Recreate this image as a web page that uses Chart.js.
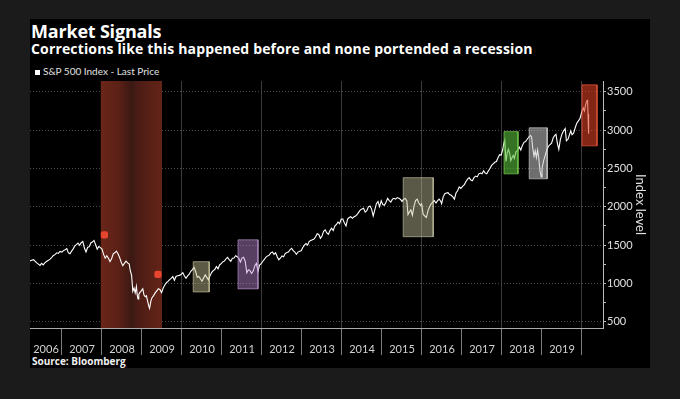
<!DOCTYPE html>
<html>
<head>
<meta charset="utf-8">
<script src="https://cdn.jsdelivr.net/npm/chart.js@4.4.1/dist/chart.umd.min.js"></script>
<style>
  body { margin: 0; background: #1b1b1b; }
  #wrap { position: relative; width: 680px; height: 399px; overflow: hidden; }
  #panel { position: absolute; left: 30px; top: 19px; width: 620px; height: 349px; background: #000; }
  .txt { position: absolute; color: #fff; font-family: Lato, sans-serif; white-space: nowrap; }
  #title { left: 31px; top: 22px; font-size: 18px; line-height: 18px; font-weight: bold; font-family: "Open Sans", sans-serif; letter-spacing: -0.2px; }
  #sub { left: 31px; top: 42px; font-size: 14px; line-height: 14px; font-weight: bold; font-family: "Open Sans", sans-serif; letter-spacing: 0.15px; }
  #legend { left: 35px; top: 66px; font-size: 10px; line-height: 10px; color: #e0e0e0; }
  #legend span { display: inline-block; width: 5px; height: 5px; background: #fff; margin-right: 3px; }
  #source { left: 32px; top: 356px; font-size: 10px; line-height: 11px; font-weight: bold; color: #f0f0f0; font-family: "Open Sans", sans-serif; }
  canvas { position: absolute; left: 0; top: 0; }
</style>
</head>
<body>
<div id="wrap">
  <div id="panel"></div>
  <div id="title" class="txt">Market Signals</div>
  <div id="sub" class="txt">Corrections like this happened before and none portended a recession</div>
  <div id="legend" class="txt"><span></span>S&amp;P 500 Index - Last Price</div>
  <div id="source" class="txt">Source: Bloomberg</div>
  <canvas id="chart" width="680" height="399"></canvas>
</div>
<script>
// S&P 500 (decimal years)
const dates = [
  2006.20,2006.24,2006.29,2006.33,2006.37,2006.41,2006.45,2006.49,2006.53,2006.57,2006.62,2006.66,2006.70,2006.74,2006.78,2006.83,2006.87,2006.91,2006.95,
  2007.00,2007.04,2007.08,2007.12,2007.16,2007.20,2007.24,2007.28,2007.32,2007.36,2007.40,2007.44,2007.48,2007.52,2007.56,2007.60,2007.64,2007.68,2007.72,2007.76,2007.80,2007.84,2007.88,2007.92,2007.96,
  2008.00,2008.04,2008.08,2008.12,2008.16,2008.20,2008.24,2008.28,2008.32,2008.36,2008.40,2008.44,2008.48,2008.52,2008.56,2008.60,2008.64,2008.68,2008.71,2008.74,2008.77,2008.80,2008.83,2008.86,2008.88,2008.90,2008.92,2008.95,2008.98,
  2009.02,2009.05,2009.08,2009.11,2009.14,2009.17,2009.19,2009.22,2009.25,2009.29,2009.33,2009.37,2009.41,2009.45,2009.49,2009.53,2009.57,2009.61,2009.65,2009.69,2009.73,2009.77,2009.81,2009.85,2009.89,2009.93,2009.97,
  2010.02,2010.06,2010.10,2010.14,2010.18,2010.22,2010.26,2010.30,2010.34,2010.38,2010.42,2010.46,2010.50,2010.54,2010.58,2010.62,2010.66,2010.70,2010.74,2010.78,2010.82,2010.86,2010.90,2010.94,2010.98,
  2011.02,2011.06,2011.10,2011.14,2011.18,2011.22,2011.26,2011.30,2011.34,2011.38,2011.42,2011.46,2011.50,2011.54,2011.58,2011.62,2011.66,2011.70,2011.74,2011.78,2011.82,2011.86,2011.90,2011.94,2011.98,
  2012.02,2012.06,2012.10,2012.14,2012.18,2012.22,2012.26,2012.30,2012.34,2012.38,2012.42,2012.46,2012.50,2012.54,2012.58,2012.62,2012.66,2012.70,2012.74,2012.78,2012.82,2012.86,2012.90,2012.94,2012.98,
  2013.02,2013.06,2013.10,2013.14,2013.18,2013.22,2013.26,2013.30,2013.34,2013.38,2013.42,2013.46,2013.50,2013.54,2013.58,2013.62,2013.66,2013.70,2013.74,2013.78,2013.82,2013.86,2013.90,2013.94,2013.98,
  2014.02,2014.06,2014.10,2014.14,2014.18,2014.22,2014.26,2014.30,2014.34,2014.38,2014.42,2014.46,2014.50,2014.54,2014.58,2014.62,2014.66,2014.70,2014.74,2014.78,2014.82,2014.86,2014.90,2014.94,2014.98,
  2015.02,2015.06,2015.10,2015.14,2015.18,2015.22,2015.26,2015.30,2015.34,2015.38,2015.42,2015.46,2015.50,2015.54,2015.58,2015.62,2015.65,2015.68,2015.72,2015.76,2015.80,2015.84,2015.88,2015.92,2015.96,2015.99,
  2016.03,2016.07,2016.11,2016.15,2016.19,2016.23,2016.27,2016.31,2016.35,2016.39,2016.43,2016.47,2016.49,2016.53,2016.57,2016.61,2016.65,2016.69,2016.73,2016.77,2016.81,2016.85,2016.89,2016.93,2016.97,
  2017.02,2017.06,2017.10,2017.14,2017.18,2017.22,2017.26,2017.30,2017.34,2017.38,2017.42,2017.46,2017.50,2017.54,2017.58,2017.62,2017.66,2017.70,2017.74,2017.78,2017.82,2017.86,2017.90,2017.94,2017.98,
  2018.02,2018.05,2018.07,2018.10,2018.13,2018.16,2018.19,2018.22,2018.25,2018.28,2018.31,2018.35,2018.39,2018.43,2018.47,2018.51,2018.55,2018.59,2018.63,2018.67,2018.71,2018.74,2018.77,2018.80,2018.83,2018.86,2018.89,2018.92,2018.95,2018.98,
  2019.00,2019.04,2019.08,2019.12,2019.16,2019.20,2019.24,2019.28,2019.32,2019.35,2019.38,2019.42,2019.46,2019.50,2019.54,2019.58,2019.61,2019.65,2019.68,2019.72,2019.75,2019.79,2019.83,2019.87,2019.91,2019.95,2019.99,
  2020.03,2020.06,2020.09,2020.12,2020.14,2020.15,2020.16,2020.17
];
const closes = [
  1295,1302,1311,1290,1268,1252,1236,1262,1242,1268,1290,1302,1318,1338,1362,1380,1400,1392,1418,
  1410,1432,1440,1456,1400,1388,1422,1452,1490,1508,1528,1498,1532,1548,1462,1412,1470,1480,1528,1540,1562,1505,1448,1482,1468,
  1448,1380,1330,1362,1330,1285,1322,1388,1400,1422,1388,1340,1278,1232,1262,1292,1268,1252,1160,1108,900,940,878,962,852,800,862,884,903,
  930,850,828,840,770,705,676,768,815,842,878,905,932,920,880,942,980,1010,1028,1050,1068,1092,1042,1092,1100,1106,1115,
  1142,1098,1068,1100,1122,1160,1180,1212,1160,1082,1092,1062,1030,1072,1112,1080,1048,1102,1142,1168,1182,1222,1192,1242,1258,
  1282,1292,1322,1340,1310,1290,1330,1332,1362,1350,1330,1280,1332,1342,1290,1140,1180,1168,1130,1162,1232,1262,1160,1242,1258,
  1290,1315,1345,1360,1370,1400,1410,1380,1400,1350,1310,1330,1360,1350,1390,1405,1410,1440,1460,1430,1410,1380,1410,1420,1426,
  1470,1500,1520,1500,1550,1560,1570,1580,1610,1650,1640,1590,1620,1680,1700,1660,1640,1690,1720,1690,1750,1770,1800,1780,1840,
  1840,1790,1750,1840,1860,1870,1850,1870,1880,1900,1930,1960,1970,1980,1930,1950,2000,2010,1970,1880,1960,2040,2070,2000,2080,
  2030,2020,2060,2110,2080,2060,2100,2110,2100,2120,2110,2100,2070,2100,2110,2080,1900,1930,1960,1890,2010,2080,2100,2050,2020,2040,
  1900,1880,1860,1950,2000,2040,2060,2080,2050,2080,2100,2070,2040,2130,2170,2180,2185,2160,2150,2130,2100,2180,2210,2260,2240,
  2270,2290,2330,2360,2380,2350,2340,2380,2400,2390,2430,2440,2430,2470,2440,2430,2470,2500,2540,2560,2580,2590,2640,2680,2675,
  2750,2840,2870,2590,2700,2750,2700,2600,2640,2670,2630,2720,2730,2780,2740,2800,2840,2850,2880,2910,2930,2910,2760,2660,2730,2640,2740,2630,2470,2390,
  2500,2600,2670,2740,2790,2810,2830,2900,2930,2945,2840,2750,2880,2950,2990,3020,2860,2880,2930,2990,2940,2960,3030,3090,3120,3150,3230,
  3290,3250,3330,3380,3386,3210,3130,2954
];

// recession shading (Dec 2007 - Jun 2009)
const bandStart = 2007.97;
const bandEnd = 2009.50;

// correction boxes
const boxStart = [2010.28, 2011.40, 2015.53, 2018.05, 2018.68, 2020.00];
const boxEnd   = [2010.68, 2011.90, 2016.28, 2018.40, 2019.13, 2020.375];
const boxLow   = [890, 930, 1610, 2430, 2365, 2795];
const boxHigh  = [1285, 1570, 2380, 2980, 3030, 3590];

// recession event markers
const markerX = [2008.06, 2009.40];
const markerY = [1635, 1120];

const yearLabels = ['2006','2007','2008','2009','2010','2011','2012','2013','2014','2015','2016','2017','2018','2019'];
const yMajor = [500, 1000, 1500, 2000, 2500, 3000, 3500];

const X_MIN = 2006.2, X_MAX = 2020.525, Y_MIN = 420, Y_MAX = 3640;

const boxFill = ['rgba(205,200,150,0.45)', 'rgba(190,140,215,0.45)', 'rgba(200,198,160,0.45)',
                 'rgba(90,190,60,0.6)', 'rgba(200,200,200,0.55)', 'rgba(225,65,38,0.58)'];
const boxLine = ['rgba(225,220,175,0.55)', 'rgba(205,165,225,0.55)', 'rgba(220,218,185,0.55)',
                 'rgba(120,210,80,0.7)', 'rgba(220,220,220,0.6)', 'rgba(235,90,60,0.7)'];

// label positions: centre of each visible year
const labelPos = new Map();
yearLabels.forEach((lab, i) => {
  const y = +lab;
  labelPos.set(i === 0 ? (X_MIN + y + 1) / 2 : y + 0.5, lab);
});
const yearLines = yearLabels.map(l => +l + 1);
const xTicks = [...yearLines, ...labelPos.keys()].sort((a, b) => a - b);
const yTicks = [];
yMajor.forEach((v, i) => { yTicks.push(v); if (i < yMajor.length - 1) yTicks.push((v + yMajor[i + 1]) / 2); });

Chart.defaults.font.family = 'Lato, sans-serif';

const rect = (x0, x1, y0, y1) => [{x: x0, y: y0}, {x: x0, y: y1}, {x: x1, y: y1}, {x: x1, y: y0}, {x: x0, y: y0}];

const boxSets = boxStart.map((s, i) => ({
  data: rect(s, boxEnd[i], boxLow[i], boxHigh[i]),
  backgroundColor: boxFill[i],
  borderColor: boxLine[i],
  borderWidth: 1,
  pointRadius: 0,
  fill: 'shape'
}));

const bandSet = {
  data: rect(bandStart, bandEnd, Y_MIN, Y_MAX),
  borderWidth: 0,
  pointRadius: 0,
  fill: 'shape',
  backgroundColor: (c) => {
    const ch = c.chart;
    if (!ch.chartArea) return '#5a2016';
    const xs = ch.scales.x;
    const g = ch.ctx.createLinearGradient(xs.getPixelForValue(bandStart), 0, xs.getPixelForValue(bandEnd), 0);
    g.addColorStop(0, '#6a2619');
    g.addColorStop(0.3, '#5a2016');
    g.addColorStop(0.5, '#3b1913');
    g.addColorStop(0.6, '#4a1c15');
    g.addColorStop(0.82, '#5a2016');
    g.addColorStop(1, '#642318');
    return g;
  }
};

const lineSet = {
  data: dates.map((d, i) => ({x: d, y: closes[i]})),
  borderColor: '#ffffff',
  borderWidth: 1.1,
  pointRadius: 0,
  tension: 0,
  fill: false
};

const markerSet = {
  data: markerX.map((x, i) => ({x: x, y: markerY[i]})),
  showLine: false,
  pointStyle: 'rectRounded',
  pointRadius: 4.2,
  pointBackgroundColor: '#e8452e',
  pointBorderWidth: 0
};

new Chart(document.getElementById('chart'), {
  type: 'line',
  data: { datasets: [...boxSets, markerSet, lineSet, bandSet] },
  options: {
    responsive: false,
    animation: false,
    layout: { padding: { left: 30, top: 81, right: 30, bottom: 31 } },
    plugins: { legend: { display: false }, tooltip: { enabled: false } },
    scales: {
      x: {
        type: 'linear', min: X_MIN, max: X_MAX,
        afterBuildTicks: s => { s.ticks = xTicks.map(v => ({value: v})); },
        afterFit: s => { s.height = 40; },
        ticks: {
          autoSkip: false, maxRotation: 0, minRotation: 0,
          padding: -12, color: '#d2d2d2', font: { size: 11 },
          callback: v => labelPos.get(v) || ''
        },
        grid: {
          tickLength: 27,
          color: c => (c.tick && Number.isInteger(c.tick.value) && c.tick.value % 2 === 0) ? '#3c3c3c' : 'rgba(0,0,0,0)',
          tickColor: c => (c.tick && Number.isInteger(c.tick.value)) ? '#7c7c7c' : 'rgba(0,0,0,0)'
        },
        border: { color: '#aaaaaa', width: 1 }
      },
      y: {
        type: 'linear', position: 'right', min: Y_MIN, max: Y_MAX,
        afterBuildTicks: s => { s.ticks = yTicks.map(v => ({value: v})); },
        afterFit: s => { s.width = 47; },
        ticks: {
          padding: 1, color: '#e0e0e0', font: { size: 11 },
          callback: v => yMajor.includes(v) ? String(v) : ''
        },
        grid: {
          tickLength: 3,
          color: c => (c.tick && yMajor.includes(c.tick.value)) ? '#4a4a4a' : 'rgba(0,0,0,0)',
          tickColor: '#bbbbbb'
        },
        border: { color: '#bbbbbb', width: 1, dash: [1, 2] },
        title: { display: true, text: 'Index level', color: '#e0e0e0', font: { size: 13 }, padding: { top: 2, bottom: 2 } }
      }
    }
  }
});
</script>
</body>
</html>
